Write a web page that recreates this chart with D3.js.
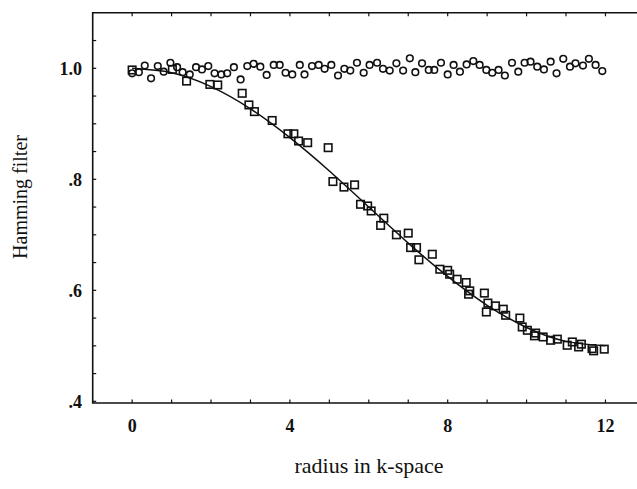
<!DOCTYPE html>
<html>
<head>
<meta charset="utf-8">
<script src="https://cdn.jsdelivr.net/npm/d3@7/dist/d3.min.js"></script>
<style>
  html, body { margin: 0; padding: 0; background: #fff; }
  svg { display: block; }
</style>
</head>
<body>
<svg id="chart" width="637" height="489"></svg>
<script>
// Unfiltered reference samples (circles)
const circleX = [0.00,0.17,0.32,0.48,0.65,0.80,0.97,1.14,1.28,1.46,1.62,1.77,1.93,2.09,2.26,2.41,2.58,2.75,2.92,3.08,3.25,3.41,
  3.59,3.74,3.89,4.06,4.25,4.37,4.56,4.73,4.88,5.05,5.22,5.38,5.53,5.70,5.87,6.02,6.21,6.36,6.53,6.70,6.87,7.04,7.18,7.35,7.52,7.66,7.83,
  8.00,8.15,8.31,8.48,8.65,8.81,8.98,9.13,9.29,9.45,9.63,9.79,9.95,10.10,10.27,10.44,10.61,10.76,10.93,11.10,11.24,11.43,11.58,11.75,11.92];
const circleY = [0.991,0.993,1.005,0.982,1.004,0.994,1.010,1.002,0.993,0.989,1.002,0.998,1.004,0.991,0.989,0.991,1.002,0.980,1.004,1.008,1.003,0.988,
  1.006,1.006,0.992,0.989,1.006,0.989,1.004,1.006,0.999,1.006,0.987,0.999,0.996,1.010,0.992,1.006,1.010,0.999,0.996,1.009,0.996,1.018,0.993,1.009,0.997,0.997,1.010,
  0.989,1.006,0.994,1.007,1.013,1.006,0.997,0.992,0.997,0.987,1.010,0.994,1.010,1.012,1.003,0.998,1.012,0.991,1.017,1.003,1.009,1.005,1.017,1.006,0.995];

// Filtered samples (squares)
const squareX = [0.00,1.02,1.38,1.97,2.17,2.79,2.96,3.10,3.55,3.95,4.10,4.22,4.45,4.97,5.09,5.37,5.64,5.79,5.97,6.06,6.30,6.38,
  6.70,7.00,7.06,7.21,7.27,7.61,7.80,8.00,8.05,8.24,8.47,8.53,8.56,8.93,8.98,9.02,9.21,9.41,9.47,9.83,9.89,10.02,10.20,10.23,
  10.42,10.61,10.78,11.03,11.16,11.32,11.39,11.66,11.70,11.97];
const squareY = [0.997,0.998,0.977,0.971,0.970,0.955,0.934,0.922,0.906,0.882,0.882,0.869,0.866,0.857,0.796,0.786,0.790,0.755,0.752,0.743,0.717,0.730,
  0.700,0.703,0.677,0.677,0.655,0.665,0.638,0.636,0.629,0.620,0.614,0.593,0.599,0.595,0.561,0.577,0.572,0.566,0.555,0.550,0.534,0.528,0.518,0.523,
  0.516,0.510,0.512,0.501,0.507,0.498,0.503,0.495,0.491,0.494];

// Fitted filter curve
const fitX = [0,1,2,3,4,5,6,7,8,9,10,11,12];
const fitY = [1.000,0.992,0.967,0.927,0.875,0.815,0.750,0.685,0.625,0.573,0.533,0.508,0.500];

// Axis ticks and labels
const xMinorTicks = [0,1,2,3,4,5,6,7,8,9,10,11,12];
const xLabelTicks = [0,4,8,12];
const yMinorTicks = [0.4,0.45,0.5,0.55,0.6,0.65,0.7,0.75,0.8,0.85,0.9,0.95,1.0,1.05];
const yLabelTicks = [0.4,0.6,0.8,1.0];
const yLabelText = [".4",".6",".8","1.0"];

const svg = d3.select("#chart");
const x = d3.scaleLinear().domain([-1, 13]).range([92.7, 644.9]);
const y = d3.scaleLinear().domain([0.397, 1.1]).range([403, 12.8]);

const serif = "'Liberation Serif', 'DejaVu Serif', serif";
const ink = "#111";

// frame: left, bottom and top edges
const x0 = x(-1), x1 = x(13), yb = y(0.397), yt = y(1.1);
svg.append("path")
  .attr("d", `M${x1},${yt}H${x0}V${yb}H${x1}`)
  .attr("fill", "none").attr("stroke", ink).attr("stroke-width", 1.6);

// inward ticks on bottom and top
const tick = 3.5;
svg.append("g").selectAll("line.bt").data(xMinorTicks).join("line")
  .attr("x1", d => x(d)).attr("x2", d => x(d))
  .attr("y1", yb).attr("y2", yb - tick)
  .attr("stroke", ink).attr("stroke-width", 1.2);
svg.append("g").selectAll("line.tt").data(xMinorTicks).join("line")
  .attr("x1", d => x(d)).attr("x2", d => x(d))
  .attr("y1", yt).attr("y2", yt + tick)
  .attr("stroke", ink).attr("stroke-width", 1.2);
svg.append("g").selectAll("line.lt").data(yMinorTicks).join("line")
  .attr("x1", x0).attr("x2", x0 + tick)
  .attr("y1", d => y(d)).attr("y2", d => y(d))
  .attr("stroke", ink).attr("stroke-width", 1.2);

// tick labels
svg.append("g").selectAll("text").data(xLabelTicks).join("text")
  .attr("x", d => x(d)).attr("y", 432)
  .attr("text-anchor", "middle")
  .attr("font-family", serif).attr("font-weight", "bold").attr("font-size", 18)
  .attr("fill", ink).text(d => d);
svg.append("g").selectAll("text").data(yLabelTicks).join("text")
  .attr("x", 82).attr("y", d => y(d)).attr("dy", "0.35em")
  .attr("text-anchor", "end")
  .attr("font-family", serif).attr("font-weight", "bold").attr("font-size", 18)
  .attr("fill", ink).text((d, i) => yLabelText[i]);

// axis titles
svg.append("text")
  .attr("x", 369).attr("y", 473).attr("text-anchor", "middle")
  .attr("font-family", serif).attr("font-size", 22).attr("fill", ink)
  .text("radius in k-space");
svg.append("text")
  .attr("transform", "translate(27,197) rotate(-90)")
  .attr("text-anchor", "middle")
  .attr("font-family", serif).attr("font-size", 20).attr("fill", ink)
  .text("Hamming filter");

// fitted curve
const line = d3.line().x(d => x(d[0])).y(d => y(d[1])).curve(d3.curveNatural);
svg.append("path")
  .datum(fitX.map((v, i) => [v, fitY[i]]))
  .attr("d", line)
  .attr("fill", "none").attr("stroke", ink).attr("stroke-width", 1.5);

// square markers
const s = 7.5;
svg.append("g").selectAll("rect").data(squareX.map((v, i) => [v, squareY[i]])).join("rect")
  .attr("x", d => x(d[0]) - s / 2).attr("y", d => y(d[1]) - s / 2)
  .attr("width", s).attr("height", s)
  .attr("fill", "none").attr("stroke", ink).attr("stroke-width", 1.6);

// circle markers
svg.append("g").selectAll("circle").data(circleX.map((v, i) => [v, circleY[i]])).join("circle")
  .attr("cx", d => x(d[0])).attr("cy", d => y(d[1])).attr("r", 3.3)
  .attr("fill", "none").attr("stroke", ink).attr("stroke-width", 1.6);
</script>
</body>
</html>
